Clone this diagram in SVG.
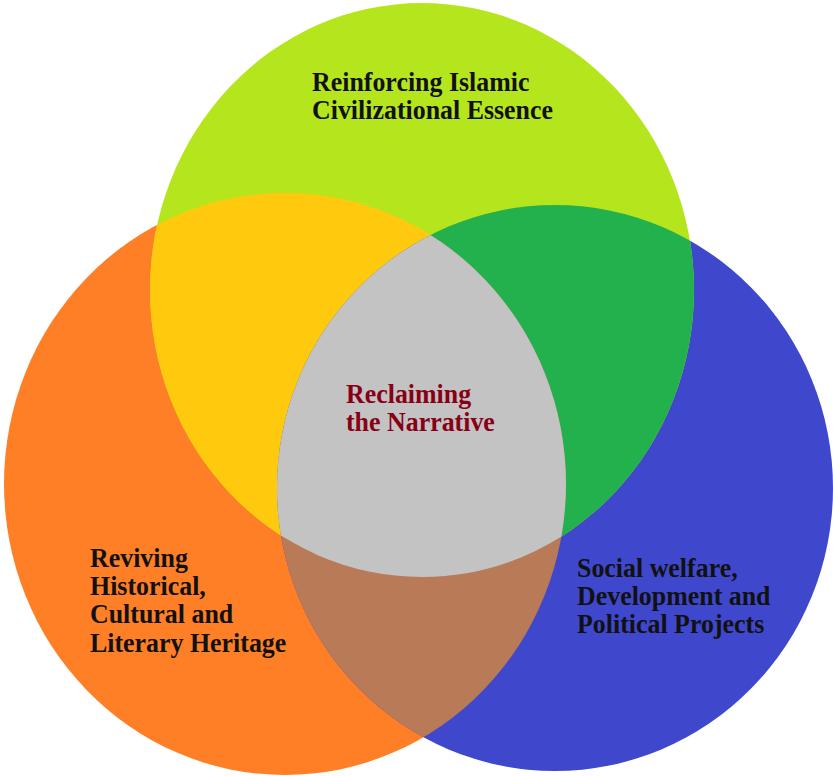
<svg xmlns="http://www.w3.org/2000/svg" width="833" height="776" viewBox="0 0 833 776">
<style>
.lbl{font-family:"Liberation Serif","Times New Roman",serif;font-weight:bold;font-size:28px;fill:#111111}
.ctr{fill:#880015}
</style>
<defs>
<clipPath id="cL"><ellipse cx="285" cy="484" rx="281" ry="291"/></clipPath>
<clipPath id="cT"><ellipse cx="422" cy="290" rx="272" ry="287"/></clipPath>
<clipPath id="cLT" clip-path="url(#cL)"><ellipse cx="422" cy="290" rx="272" ry="287"/></clipPath>
</defs>
<rect width="833" height="776" fill="#ffffff"/>
<g id="circle-left"><ellipse cx="285" cy="484" rx="281" ry="291" fill="#FF7F27"/></g>
<g id="circle-right"><ellipse cx="555" cy="488" rx="278" ry="283" fill="#3F48CC"/></g>
<g id="circle-top"><ellipse cx="422" cy="290" rx="272" ry="287" fill="#B5E61D"/></g>
<g id="overlaps">
<ellipse id="left-top" cx="422" cy="290" rx="272" ry="287" fill="#FFC90E" clip-path="url(#cL)"/>
<ellipse id="top-right" cx="555" cy="488" rx="278" ry="283" fill="#22B14C" clip-path="url(#cT)"/>
<ellipse id="left-right" cx="555" cy="488" rx="278" ry="283" fill="#B97A57" clip-path="url(#cL)"/>
<ellipse id="center" cx="555" cy="488" rx="278" ry="283" fill="#C3C3C3" clip-path="url(#cLT)"/>
</g>
<g id="connectors"/>
<g id="label-top"><text class="lbl" transform="translate(312,0) scale(0.925,1)"><tspan x="0" y="91">Reinforcing Islamic</tspan><tspan x="0" y="119">Civilizational Essence</tspan></text></g>
<g id="label-center"><text class="lbl ctr" transform="translate(346,0) scale(0.925,1)"><tspan x="0" y="403">Reclaiming</tspan><tspan x="0" y="431">the Narrative</tspan></text></g>
<g id="label-left"><text class="lbl" transform="translate(90,0) scale(0.925,1)"><tspan x="0" y="567">Reviving</tspan><tspan x="0" y="595">Historical,</tspan><tspan x="0" y="623">Cultural and</tspan><tspan x="0" y="652">Literary Heritage</tspan></text></g>
<g id="label-right"><text class="lbl" transform="translate(577,0) scale(0.925,1)"><tspan x="0" y="577">Social welfare,</tspan><tspan x="0" y="605">Development and</tspan><tspan x="0" y="633">Political Projects</tspan></text></g>
</svg>
